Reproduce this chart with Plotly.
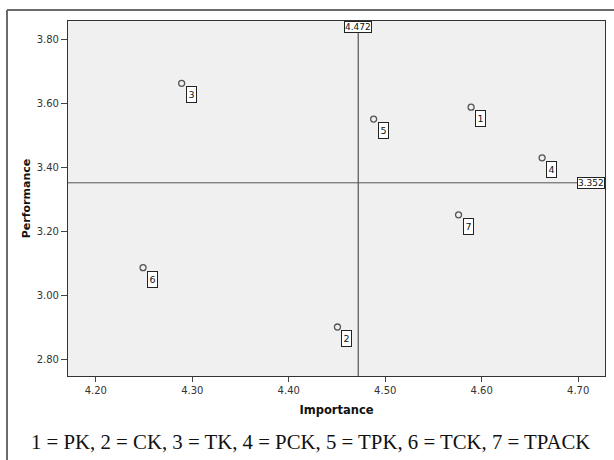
import plotly.graph_objects as go

# Data
labels = ["1", "2", "3", "4", "5", "6", "7"]
importance = [4.589, 4.4505, 4.289, 4.6626, 4.488, 4.249, 4.576]
performance = [3.588, 2.902, 3.6625, 3.430, 3.551, 3.087, 3.252]
mean_importance = 4.472
mean_performance = 3.352
x_ticks = [4.20, 4.30, 4.40, 4.50, 4.60, 4.70]
y_ticks = [2.80, 3.00, 3.20, 3.40, 3.60, 3.80]
footer = "1 = PK, 2 = CK, 3 = TK, 4 = PCK, 5 = TPK, 6 = TCK, 7 = TPACK"

SANS = "DejaVu Sans, Verdana, Arial, sans-serif"
SERIF = "Liberation Serif, Times New Roman, serif"

L, R, T, B = 68, 9, 21, 84.4
pw, ph = 614 - L - R, 460 - T - B


def px_x(p):
    return (p - L) / pw


def px_y(p):
    return (460 - B - p) / ph


fig = go.Figure()
fig.add_trace(go.Scatter(
    x=importance, y=performance, mode="markers",
    marker=dict(symbol="circle-open", size=6, color="#555555", line=dict(width=1.3)),
    hoverinfo="skip", showlegend=False,
))

annotations = []
for lab, xv, yv in zip(labels, importance, performance):
    annotations.append(dict(
        x=xv, y=yv, xref="x", yref="y", text=lab, showarrow=False,
        xshift=9.5, yshift=-11.5, font=dict(family=SANS, size=9.5, color="#111111"),
        bgcolor="white", bordercolor="#222222", borderwidth=1, borderpad=1,
        width=7, height=13,
    ))

annotations.append(dict(
    x=mean_importance, y=1, xref="x", yref="paper", yanchor="top", xanchor="center",
    text=f"{mean_importance:.3f}", showarrow=False,
    font=dict(family=SANS, size=9, color="#111111"),
    bgcolor="white", bordercolor="#222222", borderwidth=1, borderpad=0,
))
annotations.append(dict(
    x=1, y=mean_performance, xref="paper", yref="y", xanchor="right", yanchor="middle",
    text=f"{mean_performance:.3f}", showarrow=False,
    font=dict(family=SANS, size=9, color="#111111"),
    bgcolor="white", bordercolor="#222222", borderwidth=1, borderpad=0,
))
annotations.append(dict(
    x=px_x(310), y=px_y(441), xref="paper", yref="paper", xanchor="center", yanchor="middle",
    showarrow=False, text=footer, font=dict(family=SERIF, size=20.8, color="#111111"),
))

fig.add_vline(x=mean_importance, line=dict(color="#333333", width=1))
fig.add_hline(y=mean_performance, line=dict(color="#555555", width=1))

# outer frame (left and top edges)
fig.add_shape(type="line", xref="paper", yref="paper", x0=px_x(7), x1=px_x(7), y0=px_y(10), y1=px_y(470),
              line=dict(color="#6b6b6b", width=2), layer="above")
fig.add_shape(type="line", xref="paper", yref="paper", x0=px_x(7), x1=px_x(620), y0=px_y(10), y1=px_y(10),
              line=dict(color="#6b6b6b", width=2), layer="above")

fig.update_layout(
    width=614, height=460,
    margin=dict(l=L, r=R, t=T, b=B, pad=0),
    paper_bgcolor="white", plot_bgcolor="#f0f0f0",
    annotations=annotations,
    font=dict(family=SANS, size=10, color="#333333"),
    xaxis=dict(
        range=[4.1712, 4.7278], tickvals=x_ticks, ticktext=[f"{v:.2f}" for v in x_ticks],
        showgrid=False, zeroline=False, showline=True, mirror=True,
        linecolor="#333333", linewidth=1.2,
        ticks="outside", ticklen=5, tickcolor="#444444",
        tickfont=dict(family=SANS, size=10, color="#333333"),
        title=dict(text="<b>Importance</b>", font=dict(family=SANS, size=11.5, color="#111111"), standoff=10),
    ),
    yaxis=dict(
        range=[2.749, 3.857], tickvals=y_ticks, ticktext=[f"{v:.2f}" for v in y_ticks],
        showgrid=False, zeroline=False, showline=True, mirror=True,
        linecolor="#333333", linewidth=1.2,
        ticks="outside", ticklen=6, tickcolor="#444444",
        tickfont=dict(family=SANS, size=10, color="#333333"),
        title=dict(text="<b>Performance</b>", font=dict(family=SANS, size=11, color="#111111"), standoff=3),
    ),
)

fig.write_html("out.html", config={"displayModeBar": False},
               post_script="document.body.style.margin='0';document.body.style.padding='0';")
